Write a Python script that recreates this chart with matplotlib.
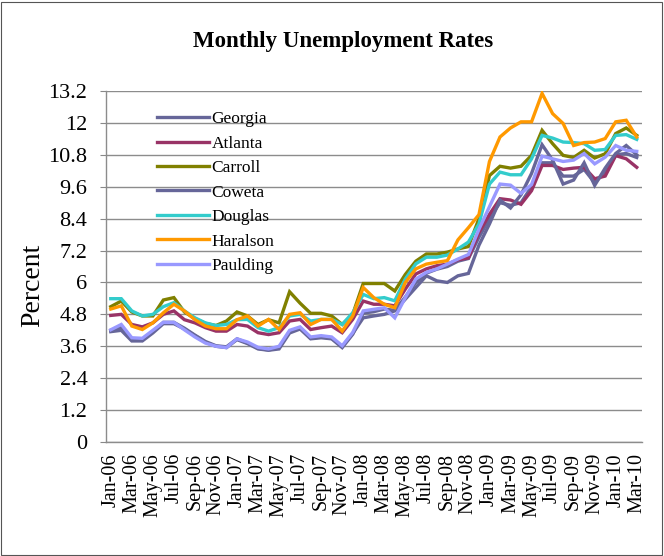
import numpy as np
import pandas as pd
import matplotlib
matplotlib.use('Agg')
import matplotlib.pyplot as plt
from matplotlib.patches import Rectangle

plt.rcParams['font.family'] = ['Liberation Serif', 'DejaVu Serif']

# Jan-06 .. Mar-10, monthly
months = list(pd.date_range('2006-01-01', periods=51, freq='MS').strftime('%b-%y'))

georgia = [4.15, 4.2, 3.8, 3.8, 4.1, 4.45, 4.45, 4.25, 4.0, 3.75, 3.6, 3.55, 3.85,
           3.7, 3.5, 3.45, 3.5, 4.1, 4.25, 3.88, 3.92, 3.88, 3.55, 4.05,
           4.85, 4.9, 5.0, 4.95, 5.45, 6.0, 6.35, 6.5, 6.6, 6.8, 6.9, 7.7,
           8.4, 9.0, 8.9, 9.0, 9.6, 10.5, 10.5, 10.0, 10.0, 10.25, 9.75, 10.15,
           10.8, 10.85, 10.7]
atlanta = [4.76, 4.8, 4.42, 4.33, 4.48, 4.8, 4.93, 4.6, 4.48, 4.3, 4.17, 4.17, 4.42,
           4.36, 4.11, 4.04, 4.11, 4.55, 4.61, 4.23, 4.3, 4.36, 4.11, 4.61,
           5.3, 5.18, 5.18, 5.12, 5.75, 6.32, 6.51, 6.63, 6.69, 6.85, 6.92, 7.87,
           8.56, 9.15, 9.1, 8.94, 9.45, 10.4, 10.4, 10.25, 10.3, 10.33, 9.9, 10.0,
           10.77, 10.65, 10.33]
carroll = [5.09, 5.3, 4.89, 4.74, 4.74, 5.34, 5.43, 4.89, 4.64, 4.46, 4.38, 4.55, 4.89,
           4.74, 4.42, 4.6, 4.48, 5.65, 5.22, 4.84, 4.84, 4.74, 4.42, 4.8,
           5.96, 5.96, 5.96, 5.68, 6.3, 6.8, 7.07, 7.07, 7.14, 7.26, 7.35, 8.4,
           10.02, 10.37, 10.3, 10.37, 10.78, 11.72, 11.22, 10.78, 10.7, 10.97, 10.68, 10.84,
           11.6, 11.81, 11.53]
coweta = [4.2, 4.3, 3.85, 3.85, 4.15, 4.5, 4.5, 4.28, 4.02, 3.78, 3.62, 3.58, 3.88,
          3.72, 3.52, 3.46, 3.55, 4.15, 4.28, 3.9, 3.95, 3.9, 3.58, 4.08,
          4.67, 4.74, 4.8, 4.93, 5.37, 5.81, 6.25, 6.06, 6.0, 6.25, 6.34, 7.4,
          8.2, 9.1, 8.8, 9.3, 10.1, 11.18, 10.6, 9.7, 9.85, 10.5, 9.65, 10.3,
          10.85, 11.15, 10.8]
douglas = [5.39, 5.39, 4.93, 4.74, 4.8, 5.09, 5.24, 4.93, 4.67, 4.48, 4.38, 4.42, 4.6,
           4.61, 4.3, 4.17, 4.3, 4.74, 4.8, 4.55, 4.61, 4.61, 4.42, 4.86,
           5.55, 5.39, 5.43, 5.31, 6.13, 6.7, 6.95, 6.95, 7.03, 7.26, 7.52, 8.2,
           9.7, 10.15, 10.05, 10.05, 10.65, 11.53, 11.43, 11.28, 11.26, 11.22, 10.97, 11.0,
           11.53, 11.56, 11.38]
haralson = [5.0, 5.12, 4.36, 4.23, 4.48, 4.86, 5.18, 4.93, 4.6, 4.36, 4.26, 4.26, 4.6,
            4.74, 4.36, 4.61, 4.23, 4.8, 4.86, 4.42, 4.61, 4.61, 4.17, 4.74,
            5.81, 5.43, 5.18, 5.05, 6.0, 6.51, 6.69, 6.76, 6.82, 7.6, 8.06, 8.55,
            10.55, 11.47, 11.81, 12.04, 12.04, 13.11, 12.35, 11.98, 11.15, 11.26, 11.28, 11.41,
            12.04, 12.1, 11.47]
paulding = [4.22, 4.42, 3.92, 3.9, 4.2, 4.5, 4.5, 4.22, 3.95, 3.72, 3.6, 3.55, 3.88,
            3.76, 3.56, 3.5, 3.6, 4.2, 4.33, 3.95, 4.0, 3.95, 3.62, 4.12,
            4.93, 4.99, 5.05, 4.67, 5.43, 6.13, 6.38, 6.51, 6.69, 6.88, 7.05, 8.0,
            8.85, 9.7, 9.66, 9.35, 9.68, 10.75, 10.65, 10.55, 10.6, 10.85, 10.46, 10.71,
            11.15, 10.97, 10.93]

series = [('Georgia', georgia, '#666699'),
          ('Atlanta', atlanta, '#993366'),
          ('Carroll', carroll, '#808000'),
          ('Coweta', coweta, '#666699'),
          ('Douglas', douglas, '#33CCCC'),
          ('Haralson', haralson, '#FF9900'),
          ('Paulding', paulding, '#9999FF')]

yticks = [0, 1.2, 2.4, 3.6, 4.8, 6, 7.2, 8.4, 9.6, 10.8, 12, 13.2]
ytick_labels = ['0', '1.2', '2.4', '3.6', '4.8', '6', '7.2', '8.4', '9.6', '10.8', '12', '13.2']

fig = plt.figure(figsize=(6.64, 5.56), dpi=100)
ax = fig.add_axes([105.5/664, 1-442/556, 536.5/664, 351/556])

x = np.arange(len(months))
for name, vals, col in series:
    ax.plot(x, vals, color=col, lw=2.4, label=name, solid_joinstyle='miter')

ax.set_xlim(-0.5, len(months)-0.5)
ax.set_ylim(0, 13.2)
ax.set_yticks(yticks)
ax.set_yticklabels(ytick_labels, fontsize=16)
ax.set_xticks(x[::2])
ax.set_xticklabels(months[::2], rotation=90, fontsize=14.5)
ax.tick_params(axis='x', length=0, pad=8)
ax.tick_params(axis='y', length=4, pad=9, color='#888888')
ax.grid(axis='y', color='#8c8c8c', lw=1)
ax.set_axisbelow(True)
for s in ['top', 'right']:
    ax.spines[s].set_visible(False)
for s in ['left', 'bottom']:
    ax.spines[s].set_color('#8c8c8c')
    ax.spines[s].set_linewidth(1)

fig.text(343/664, 1-42/556, 'Monthly Unemployment Rates', ha='center', va='center',
         fontsize=16.5, fontweight='bold')
fig.text(33/664, 1-285/556, 'Percent', rotation=90, ha='center', va='center', fontsize=20)

ax.legend(loc='upper left', bbox_to_anchor=(150/664, 1-104/556), bbox_transform=fig.transFigure,
          frameon=False, fontsize=12.5, handlelength=3.0, handletextpad=0.15,
          labelspacing=0.48, borderaxespad=0)

fig.patches.append(Rectangle((1/664, 1/556), 661/664, 553/556, transform=fig.transFigure,
                             fill=False, edgecolor='#555555', lw=0.8))

fig.savefig('out.png', dpi=100)
